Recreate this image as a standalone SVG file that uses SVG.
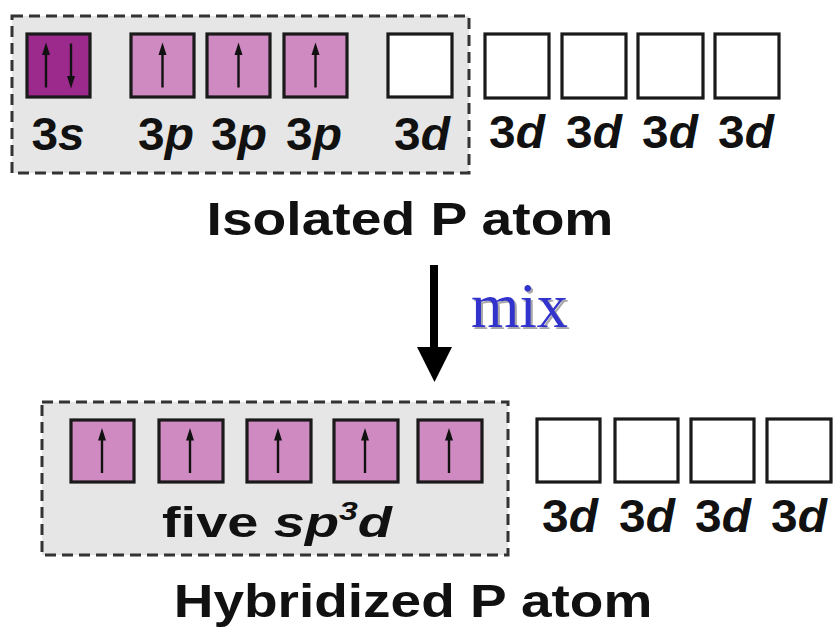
<svg xmlns="http://www.w3.org/2000/svg" xmlns:xlink="http://www.w3.org/1999/xlink" width="837" height="634" viewBox="0 0 837 634">
<style>
.grp{fill:#e6e6e6;stroke:#333;stroke-width:3;stroke-dasharray:11 6}
.box{stroke:#1a1a1a;stroke-width:3.2}
.s{fill:#9c2a8c}
.p{fill:#d08ac2}
.e{fill:#ffffff}
.lbl{font-family:"Liberation Sans",Arial,sans-serif;font-size:46px;font-weight:bold;fill:#111;text-anchor:middle}
.it{font-style:italic}
.title{font-family:"Liberation Sans",Arial,sans-serif;font-weight:bold;fill:#111;text-anchor:middle}
.el{stroke:#111;stroke-width:2.4;fill:none}
</style>
<defs>
<g id="up"><line class="el" x1="0" y1="22" x2="0" y2="-18"/><path d="M0,-23 L-4,-10.5 L4,-10.5 Z" fill="#111"/></g>
<g id="down"><line class="el" x1="0" y1="-22" x2="0" y2="18"/><path d="M0,23 L-4,10.5 L4,10.5 Z" fill="#111"/></g>
<filter id="shadow" x="-10%" y="-10%" width="130%" height="130%">
<feDropShadow dx="2" dy="2" stdDeviation="0.6" flood-color="#a8a8a8" flood-opacity="1"/>
</filter>
</defs>
<rect width="837" height="634" fill="#ffffff"/>

<g id="isolated">
<rect class="grp" x="12" y="16" width="457" height="157"/>
<g id="o3s"><rect class="box s" x="27" y="34" width="63" height="63"/><use xlink:href="#up" x="46" y="65.5"/><use xlink:href="#down" x="71" y="65.5"/>
<text class="lbl" transform="translate(58,150) scale(1.04,1)">3<tspan class="it">s</tspan></text></g>
<g id="o3p1"><rect class="box p" x="131" y="34" width="63" height="63"/><use xlink:href="#up" x="162.5" y="65.5"/>
<text class="lbl" transform="translate(166,150) scale(1.04,1)">3<tspan class="it">p</tspan></text></g>
<g id="o3p2"><rect class="box p" x="207" y="34" width="63" height="63"/><use xlink:href="#up" x="238.5" y="65.5"/>
<text class="lbl" transform="translate(239,150) scale(1.04,1)">3<tspan class="it">p</tspan></text></g>
<g id="o3p3"><rect class="box p" x="284" y="34" width="63" height="63"/><use xlink:href="#up" x="315.5" y="65.5"/>
<text class="lbl" transform="translate(314,150) scale(1.04,1)">3<tspan class="it">p</tspan></text></g>
<g id="o3d1"><rect class="box e" x="388" y="34" width="64" height="63"/>
<text class="lbl" transform="translate(422,150) scale(1.04,1)">3<tspan class="it">d</tspan></text></g>
</g>
<g id="isolated-d">
<g id="o3d2"><rect class="box e" x="485" y="34" width="64" height="64"/><text class="lbl" transform="translate(517,148) scale(1.04,1)">3<tspan class="it">d</tspan></text></g>
<g id="o3d3"><rect class="box e" x="562" y="34" width="64" height="64"/><text class="lbl" transform="translate(594,148) scale(1.04,1)">3<tspan class="it">d</tspan></text></g>
<g id="o3d4"><rect class="box e" x="638" y="34" width="65" height="64"/><text class="lbl" transform="translate(670,148) scale(1.04,1)">3<tspan class="it">d</tspan></text></g>
<g id="o3d5"><rect class="box e" x="715" y="34" width="64" height="64"/><text class="lbl" transform="translate(746,148) scale(1.04,1)">3<tspan class="it">d</tspan></text></g>
</g>
<text id="t-isolated" class="title" font-size="46" transform="translate(410,235) scale(1.2,1)">Isolated P atom</text>

<g id="connectors">
<line x1="434" y1="265" x2="434" y2="350" stroke="#000" stroke-width="8"/>
<path d="M417,347 L452,347 L434.5,382 Z" fill="#000"/>
<text x="471" y="327" filter="url(#shadow)" font-family="'Liberation Serif','Times New Roman',serif" font-size="64" fill="#3333cc" textLength="97" lengthAdjust="spacingAndGlyphs">mix</text>
</g>

<g id="hybridized">
<rect class="grp" x="42" y="402" width="466" height="153"/>
<g id="h1"><rect class="box p" x="71" y="420" width="63" height="62"/><use xlink:href="#up" x="102" y="451"/></g>
<g id="h2"><rect class="box p" x="159" y="420" width="64" height="62"/><use xlink:href="#up" x="190" y="451"/></g>
<g id="h3"><rect class="box p" x="247" y="420" width="64" height="62"/><use xlink:href="#up" x="278" y="451"/></g>
<g id="h4"><rect class="box p" x="334" y="420" width="64" height="62"/><use xlink:href="#up" x="365" y="451"/></g>
<g id="h5"><rect class="box p" x="418" y="420" width="64" height="62"/><use xlink:href="#up" x="449" y="451"/></g>
<text class="lbl" style="font-size:43px" transform="translate(277,537) scale(1.3,1)">five <tspan class="it">sp</tspan><tspan class="it" style="font-size:26px" dy="-17">3</tspan><tspan class="it" dy="17">d</tspan></text>
</g>
<g id="hybridized-d">
<g id="h3d1"><rect class="box e" x="537" y="419" width="63" height="63"/><text class="lbl" transform="translate(570,532) scale(1.04,1)">3<tspan class="it">d</tspan></text></g>
<g id="h3d2"><rect class="box e" x="615" y="419" width="63" height="63"/><text class="lbl" transform="translate(647,532) scale(1.04,1)">3<tspan class="it">d</tspan></text></g>
<g id="h3d3"><rect class="box e" x="691" y="419" width="63" height="63"/><text class="lbl" transform="translate(723,532) scale(1.04,1)">3<tspan class="it">d</tspan></text></g>
<g id="h3d4"><rect class="box e" x="767" y="419" width="64" height="63"/><text class="lbl" transform="translate(799,532) scale(1.04,1)">3<tspan class="it">d</tspan></text></g>
</g>
<text id="t-hybridized" class="title" font-size="47" transform="translate(413,617) scale(1.17,1)">Hybridized P atom</text>
</svg>
